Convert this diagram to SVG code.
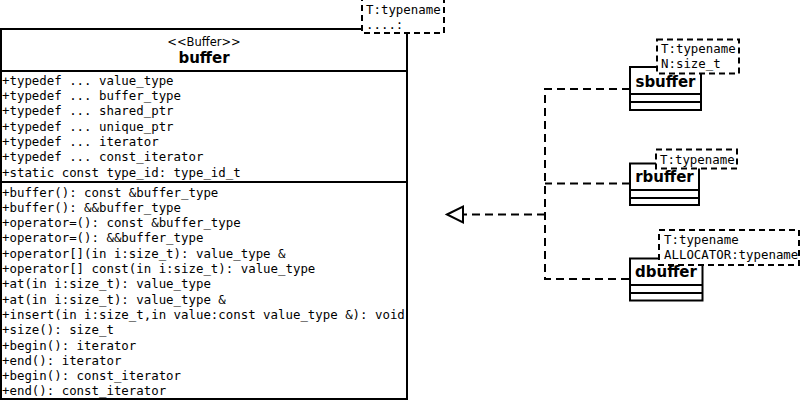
<svg xmlns="http://www.w3.org/2000/svg" width="800" height="401" viewBox="0 0 800 401">
<style>
.box{fill:#fff;stroke:#000;stroke-width:2}
.ln{stroke:#000;stroke-width:2;fill:none}
.tpl{fill:#fff;stroke:#000;stroke-width:2;stroke-dasharray:6,4}
.mono{font-family:"DejaVu Sans Mono",monospace;font-size:12.4px;fill:#000}
.st{font-family:"DejaVu Sans",sans-serif;font-size:11.5px;fill:#000;text-anchor:middle}
.nm{font-family:"DejaVu Sans",sans-serif;font-size:15px;font-weight:bold;fill:#000;text-anchor:middle}
.con{stroke:#000;stroke-width:2;fill:none;stroke-dasharray:8,5}
</style>
<g id="connectors">
<path class="con" d="M630,89 H545 V279 H630"/>
<path class="con" d="M630,183.5 H545"/>
<path class="con" d="M545,214.5 H463"/>
<path d="M447,214.5 L463,206.5 L463,222.5 Z" fill="#fff" stroke="#000" stroke-width="2"/>
</g>
<g id="buffer">
<rect class="box" x="1" y="29" width="406" height="370"/>
<line class="ln" x1="1" y1="71" x2="407" y2="71"/>
<line class="ln" x1="1" y1="182" x2="407" y2="182"/>
<text class="st" x="204" y="46">&lt;&lt;Buffer&gt;&gt;</text>
<text class="nm" x="204" y="63">buffer</text>
<text class="mono" xml:space="preserve"><tspan x="2" y="84.5">+typedef ... value_type</tspan><tspan x="2" y="99.8">+typedef ... buffer_type</tspan><tspan x="2" y="115.2">+typedef ... shared_ptr</tspan><tspan x="2" y="130.5">+typedef ... unique_ptr</tspan><tspan x="2" y="145.8">+typedef ... iterator</tspan><tspan x="2" y="161.2">+typedef ... const_iterator</tspan><tspan x="2" y="176.5">+static const type_id: type_id_t</tspan></text>
<text class="mono" xml:space="preserve"><tspan x="2" y="196.5">+buffer(): const &amp;buffer_type</tspan><tspan x="2" y="211.8">+buffer(): &amp;&amp;buffer_type</tspan><tspan x="2" y="227.1">+operator=(): const &amp;buffer_type</tspan><tspan x="2" y="242.4">+operator=(): &amp;&amp;buffer_type</tspan><tspan x="2" y="257.7">+operator[](in i:size_t): value_type &amp;</tspan><tspan x="2" y="273">+operator[] const(in i:size_t): value_type</tspan><tspan x="2" y="288.3">+at(in i:size_t): value_type</tspan><tspan x="2" y="303.6">+at(in i:size_t): value_type &amp;</tspan><tspan x="2" y="318.9">+insert(in i:size_t,in value:const value_type &amp;): void</tspan><tspan x="2" y="334.2">+size(): size_t</tspan><tspan x="2" y="349.5">+begin(): iterator</tspan><tspan x="2" y="364.8">+end(): iterator</tspan><tspan x="2" y="380.1">+begin(): const_iterator</tspan><tspan x="2" y="395.4">+end(): const_iterator</tspan></text>
<rect class="tpl" x="362" y="-1" width="82" height="34"/>
<text class="mono" xml:space="preserve"><tspan x="366" y="14">T:typename</tspan><tspan x="366" y="29">....:</tspan></text>
</g>
<g id="sbuffer">
<rect class="box" x="630" y="67" width="71" height="43"/>
<line class="ln" x1="630" y1="94" x2="701" y2="94"/>
<line class="ln" x1="630" y1="102" x2="701" y2="102"/>
<text class="nm" x="665.5" y="87">sbuffer</text>
<rect class="tpl" x="657" y="39.5" width="82" height="34"/>
<text class="mono" xml:space="preserve"><tspan x="661" y="52.5">T:typename</tspan><tspan x="661" y="67.5">N:size_t</tspan></text>
</g>
<g id="rbuffer">
<rect class="box" x="630" y="163.5" width="69" height="41.5"/>
<line class="ln" x1="630" y1="190" x2="699" y2="190"/>
<line class="ln" x1="630" y1="198" x2="699" y2="198"/>
<text class="nm" x="664.5" y="182">rbuffer</text>
<rect class="tpl" x="656" y="149.5" width="81" height="19"/>
<text class="mono" x="660" y="163.5">T:typename</text>
</g>
<g id="dbuffer">
<rect class="box" x="630" y="258.5" width="72.5" height="42"/>
<line class="ln" x1="630" y1="285" x2="702.5" y2="285"/>
<line class="ln" x1="630" y1="293" x2="702.5" y2="293"/>
<text class="nm" x="666" y="277">dbuffer</text>
<rect class="tpl" x="659" y="230" width="140" height="35"/>
<text class="mono" xml:space="preserve"><tspan x="664" y="244">T:typename</tspan><tspan x="664" y="258.5">ALLOCATOR:typename</tspan></text>
</g>
</svg>
